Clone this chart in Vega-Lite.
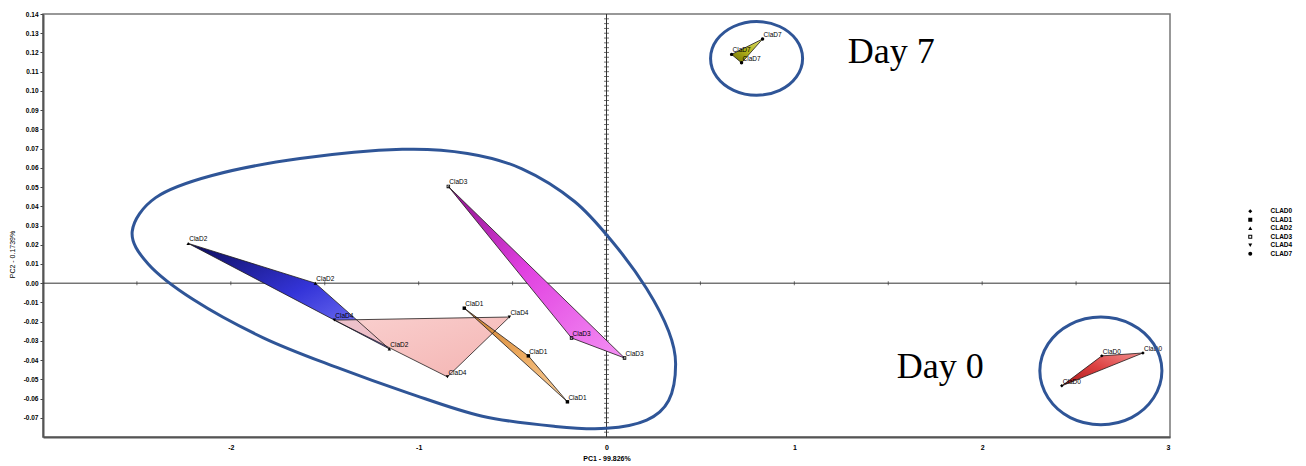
{
  "$schema": "https://vega.github.io/schema/vega-lite/v6.json",
  "width": 1127,
  "height": 423,
  "autosize": {"type": "none"},
  "padding": {"left": 43, "top": 14, "right": 136, "bottom": 29},
  "background": "#ffffff",
  "config": {"view": {"stroke": "#777777", "strokeWidth": 1.5}},
  "resolve": {"axis": {"x": "independent", "y": "independent"}},
  "datasets": {
    "pts": [
      {"group": "CLAD0", "label": "ClaD0", "v": 1, "x": 2.637, "y": -0.0378},
      {"group": "CLAD0", "label": "ClaD0", "v": 2, "x": 2.856, "y": -0.0363},
      {"group": "CLAD0", "label": "ClaD0", "v": 3, "x": 2.424, "y": -0.0534},
      {"group": "CLAD1", "label": "ClaD1", "v": 1, "x": -0.757, "y": -0.0130},
      {"group": "CLAD1", "label": "ClaD1", "v": 2, "x": -0.416, "y": -0.0378},
      {"group": "CLAD1", "label": "ClaD1", "v": 3, "x": -0.208, "y": -0.0617},
      {"group": "CLAD2", "label": "ClaD2", "v": 1, "x": -2.227, "y": 0.0207},
      {"group": "CLAD2", "label": "ClaD2", "v": 2, "x": -1.550, "y": 0.0000},
      {"group": "CLAD2", "label": "ClaD2", "v": 3, "x": -1.156, "y": -0.0342},
      {"group": "CLAD3", "label": "ClaD3", "v": 1, "x": -0.842, "y": 0.0503},
      {"group": "CLAD3", "label": "ClaD3", "v": 2, "x": -0.186, "y": -0.0285},
      {"group": "CLAD3", "label": "ClaD3", "v": 3, "x": 0.096, "y": -0.0389},
      {"group": "CLAD4", "label": "ClaD4", "v": 1, "x": -1.449, "y": -0.0192},
      {"group": "CLAD4", "label": "ClaD4", "v": 2, "x": -0.517, "y": -0.0176},
      {"group": "CLAD4", "label": "ClaD4", "v": 3, "x": -0.847, "y": -0.0487},
      {"group": "CLAD7", "label": "ClaD7", "v": 1, "x": 0.831, "y": 0.1270},
      {"group": "CLAD7", "label": "ClaD7", "v": 2, "x": 0.666, "y": 0.1190},
      {"group": "CLAD7", "label": "ClaD7", "v": 3, "x": 0.719, "y": 0.1146}
    ],
    "ell": [
      {"id": "big", "i": 1, "x": -2.525, "y": 0.0270},
      {"id": "big", "i": 2, "x": -2.40, "y": 0.0445},
      {"id": "big", "i": 3, "x": -2.10, "y": 0.0560},
      {"id": "big", "i": 4, "x": -1.632, "y": 0.0648},
      {"id": "big", "i": 5, "x": -1.088, "y": 0.0696},
      {"id": "big", "i": 6, "x": -0.740, "y": 0.0675},
      {"id": "big", "i": 7, "x": -0.450, "y": 0.0595},
      {"id": "big", "i": 8, "x": -0.170, "y": 0.0425},
      {"id": "big", "i": 9, "x": 0.040, "y": 0.0205},
      {"id": "big", "i": 10, "x": 0.214, "y": -0.0029},
      {"id": "big", "i": 11, "x": 0.331, "y": -0.0250},
      {"id": "big", "i": 12, "x": 0.368, "y": -0.0420},
      {"id": "big", "i": 13, "x": 0.331, "y": -0.0610},
      {"id": "big", "i": 14, "x": 0.214, "y": -0.0712},
      {"id": "big", "i": 15, "x": 0.000, "y": -0.0755},
      {"id": "big", "i": 16, "x": -0.272, "y": -0.0745},
      {"id": "big", "i": 17, "x": -0.661, "y": -0.0692},
      {"id": "big", "i": 18, "x": -1.050, "y": -0.0573},
      {"id": "big", "i": 19, "x": -1.439, "y": -0.0437},
      {"id": "big", "i": 20, "x": -1.827, "y": -0.0284},
      {"id": "big", "i": 21, "x": -2.200, "y": -0.0085},
      {"id": "big", "i": 22, "x": -2.440, "y": 0.0100},
      {"id": "d7", "i": 1, "x": 1.044, "y": 0.1169},
      {"id": "d7", "i": 2, "x": 1.011, "y": 0.1265},
      {"id": "d7", "i": 3, "x": 0.922, "y": 0.1335},
      {"id": "d7", "i": 4, "x": 0.799, "y": 0.1361},
      {"id": "d7", "i": 5, "x": 0.677, "y": 0.1335},
      {"id": "d7", "i": 6, "x": 0.587, "y": 0.1265},
      {"id": "d7", "i": 7, "x": 0.554, "y": 0.1169},
      {"id": "d7", "i": 8, "x": 0.587, "y": 0.1073},
      {"id": "d7", "i": 9, "x": 0.677, "y": 0.1003},
      {"id": "d7", "i": 10, "x": 0.799, "y": 0.0977},
      {"id": "d7", "i": 11, "x": 0.922, "y": 0.1003},
      {"id": "d7", "i": 12, "x": 1.011, "y": 0.1073},
      {"id": "d0", "i": 1, "x": 2.957, "y": -0.0456},
      {"id": "d0", "i": 2, "x": 2.913, "y": -0.0316},
      {"id": "d0", "i": 3, "x": 2.795, "y": -0.0214},
      {"id": "d0", "i": 4, "x": 2.632, "y": -0.0176},
      {"id": "d0", "i": 5, "x": 2.469, "y": -0.0214},
      {"id": "d0", "i": 6, "x": 2.351, "y": -0.0316},
      {"id": "d0", "i": 7, "x": 2.307, "y": -0.0456},
      {"id": "d0", "i": 8, "x": 2.351, "y": -0.0596},
      {"id": "d0", "i": 9, "x": 2.469, "y": -0.0699},
      {"id": "d0", "i": 10, "x": 2.632, "y": -0.0736},
      {"id": "d0", "i": 11, "x": 2.795, "y": -0.0699},
      {"id": "d0", "i": 12, "x": 2.913, "y": -0.0596}
    ],
    "days": [
      {"x": 1.284, "y": 0.1203, "text": "Day 7"},
      {"x": 1.545, "y": -0.0435, "text": "Day 0"}
    ],
    "hticks": [
      {"x": -2.5}, {"x": -2}, {"x": -1.5}, {"x": -1}, {"x": -0.5},
      {"x": 0.5}, {"x": 1}, {"x": 1.5}, {"x": 2}, {"x": 2.5}
    ],
    "vticks": [
      {"y": -0.0775}, {"y": -0.075}, {"y": -0.0725}, {"y": -0.07}, {"y": -0.0675}, {"y": -0.065}, {"y": -0.0625}, {"y": -0.06},
      {"y": -0.0575}, {"y": -0.055}, {"y": -0.0525}, {"y": -0.05}, {"y": -0.0475}, {"y": -0.045}, {"y": -0.0425}, {"y": -0.04},
      {"y": -0.0375}, {"y": -0.035}, {"y": -0.0325}, {"y": -0.03}, {"y": -0.0275}, {"y": -0.025}, {"y": -0.0225}, {"y": -0.02},
      {"y": -0.0175}, {"y": -0.015}, {"y": -0.0125}, {"y": -0.01}, {"y": -0.0075}, {"y": -0.005}, {"y": -0.0025},
      {"y": 0.0025}, {"y": 0.005}, {"y": 0.0075}, {"y": 0.01}, {"y": 0.0125}, {"y": 0.015}, {"y": 0.0175}, {"y": 0.02},
      {"y": 0.0225}, {"y": 0.025}, {"y": 0.0275}, {"y": 0.03}, {"y": 0.0325}, {"y": 0.035}, {"y": 0.0375}, {"y": 0.04},
      {"y": 0.0425}, {"y": 0.045}, {"y": 0.0475}, {"y": 0.05}, {"y": 0.0525}, {"y": 0.055}, {"y": 0.0575}, {"y": 0.06},
      {"y": 0.0625}, {"y": 0.065}, {"y": 0.0675}, {"y": 0.07}, {"y": 0.0725}, {"y": 0.075}, {"y": 0.0775}, {"y": 0.08},
      {"y": 0.0825}, {"y": 0.085}, {"y": 0.0875}, {"y": 0.09}, {"y": 0.0925}, {"y": 0.095}, {"y": 0.0975}, {"y": 0.1},
      {"y": 0.1025}, {"y": 0.105}, {"y": 0.1075}, {"y": 0.11}, {"y": 0.1125}, {"y": 0.115}, {"y": 0.1175}, {"y": 0.12},
      {"y": 0.1225}, {"y": 0.125}, {"y": 0.1275}, {"y": 0.13}, {"y": 0.1325}, {"y": 0.135}, {"y": 0.1375}
    ]
  },
  "layer": [
    {
      "data": {"name": "pts"},
      "mark": {"type": "point", "opacity": 0, "size": 1},
      "encoding": {
        "x": {"field": "x", "type": "quantitative", "scale": {"domain": [-3, 3], "nice": false, "zero": false},
          "axis": {"title": "PC1 - 99.826%", "values": [-2, -1, 0, 1, 2, 3], "labelExpr": "'' + datum.value", "grid": false, "ticks": false,
            "labelOverlap": false, "domainColor": "#555555", "domainWidth": 2, "labelFont": "Liberation Sans", "labelFontSize": 7, "labelFontWeight": "bold",
            "labelColor": "#000000", "labelPadding": 6, "titleFont": "Liberation Sans", "titleFontSize": 7, "titleFontWeight": "bold",
            "titleColor": "#000000", "titlePadding": 4}},
        "y": {"field": "y", "type": "quantitative", "scale": {"domain": [-0.08, 0.14], "nice": false, "zero": false},
          "axis": {"title": "PC2 - 0.1739%", "values": [-0.07, -0.06, -0.05, -0.04, -0.03, -0.02, -0.01, 0, 0.01, 0.02, 0.03, 0.04, 0.05, 0.06, 0.07, 0.08, 0.09, 0.1, 0.11, 0.12, 0.13, 0.14],
            "labelExpr": "replace(format(datum.value, '.2f'), '\u2212', '-')", "labelOverlap": false, "labelBound": false, "labelFlush": false,
            "grid": false, "ticks": true, "tickSize": 3, "tickColor": "#444444",
            "domainColor": "#555555", "domainWidth": 2, "labelFont": "Liberation Sans", "labelFontSize": 6.5, "labelFontWeight": "bold",
            "labelColor": "#000000", "labelPadding": 2, "titleFont": "Liberation Sans", "titleFontSize": 7, "titleFontWeight": "normal",
            "titleColor": "#000000", "titleX": -31, "titleY": 240, "titleAlign": "center", "titleBaseline": "middle"}}
      }
    },
    {
      "data": {"values": [{"y": 0}]},
      "mark": {"type": "rule", "color": "#333333", "strokeWidth": 1},
      "encoding": {
        "y": {"field": "y", "type": "quantitative", "scale": {"domain": [-0.08, 0.14], "nice": false, "zero": false}, "axis": null}
      }
    },
    {
      "data": {"values": [{"x": 0}]},
      "mark": {"type": "rule", "color": "#333333", "strokeWidth": 1},
      "encoding": {
        "x": {"field": "x", "type": "quantitative", "scale": {"domain": [-3, 3], "nice": false, "zero": false}, "axis": null}
      }
    },
    {
      "data": {"name": "hticks"},
      "mark": {"type": "tick", "orient": "vertical", "color": "#333333", "size": 4, "thickness": 1},
      "encoding": {
        "x": {"field": "x", "type": "quantitative", "scale": {"domain": [-3, 3], "nice": false, "zero": false}, "axis": null},
        "y": {"datum": 0, "type": "quantitative", "scale": {"domain": [-0.08, 0.14], "nice": false, "zero": false}, "axis": null}
      }
    },
    {
      "data": {"name": "vticks"},
      "mark": {"type": "tick", "orient": "horizontal", "color": "#333333", "size": 5, "thickness": 1},
      "encoding": {
        "x": {"datum": 0, "type": "quantitative", "scale": {"domain": [-3, 3], "nice": false, "zero": false}, "axis": null},
        "y": {"field": "y", "type": "quantitative", "scale": {"domain": [-0.08, 0.14], "nice": false, "zero": false}, "axis": null}
      }
    },
    {
      "data": {"name": "pts"},
      "transform": [{"filter": "datum.group === 'CLAD2'"}],
      "mark": {"type": "line", "interpolate": "linear-closed", "stroke": "transparent", "strokeWidth": 0,
        "fill": {"gradient": "linear", "x1": 0, "y1": 0, "x2": 1, "y2": 1, "stops": [{"offset": 0, "color": "#0c0c5a"}, {"offset": 0.5, "color": "#3434d8"}, {"offset": 1, "color": "#8c8cff"}]}},
      "encoding": {
        "x": {"field": "x", "type": "quantitative", "scale": {"domain": [-3, 3], "nice": false, "zero": false}, "axis": null},
        "y": {"field": "y", "type": "quantitative", "scale": {"domain": [-0.08, 0.14], "nice": false, "zero": false}, "axis": null},
        "order": {"field": "v", "type": "quantitative"}
      }
    },
    {
      "data": {"name": "pts"},
      "transform": [{"filter": "datum.group === 'CLAD4'"}],
      "mark": {"type": "line", "interpolate": "linear-closed", "stroke": "transparent", "strokeWidth": 0, "fillOpacity": 0.92,
        "fill": {"gradient": "linear", "x1": 0, "y1": 0, "x2": 1, "y2": 1, "stops": [{"offset": 0, "color": "#f9cccb"}, {"offset": 1, "color": "#f3aeac"}]}},
      "encoding": {
        "x": {"field": "x", "type": "quantitative", "scale": {"domain": [-3, 3], "nice": false, "zero": false}, "axis": null},
        "y": {"field": "y", "type": "quantitative", "scale": {"domain": [-0.08, 0.14], "nice": false, "zero": false}, "axis": null},
        "order": {"field": "v", "type": "quantitative"}
      }
    },
    {
      "data": {"name": "pts"},
      "transform": [{"filter": "datum.group === 'CLAD1'"}],
      "mark": {"type": "line", "interpolate": "linear-closed", "stroke": "transparent", "strokeWidth": 0,
        "fill": {"gradient": "linear", "x1": 0, "y1": 0, "x2": 1, "y2": 1, "stops": [{"offset": 0, "color": "#c47a2c"}, {"offset": 0.5, "color": "#eca85c"}, {"offset": 1, "color": "#f6d0a0"}]}},
      "encoding": {
        "x": {"field": "x", "type": "quantitative", "scale": {"domain": [-3, 3], "nice": false, "zero": false}, "axis": null},
        "y": {"field": "y", "type": "quantitative", "scale": {"domain": [-0.08, 0.14], "nice": false, "zero": false}, "axis": null},
        "order": {"field": "v", "type": "quantitative"}
      }
    },
    {
      "data": {"name": "pts"},
      "transform": [{"filter": "datum.group === 'CLAD3'"}],
      "mark": {"type": "line", "interpolate": "linear-closed", "stroke": "transparent", "strokeWidth": 0,
        "fill": {"gradient": "linear", "x1": 0, "y1": 0, "x2": 1, "y2": 1, "stops": [{"offset": 0, "color": "#8a108a"}, {"offset": 0.45, "color": "#e040e0"}, {"offset": 1, "color": "#f490f4"}]}},
      "encoding": {
        "x": {"field": "x", "type": "quantitative", "scale": {"domain": [-3, 3], "nice": false, "zero": false}, "axis": null},
        "y": {"field": "y", "type": "quantitative", "scale": {"domain": [-0.08, 0.14], "nice": false, "zero": false}, "axis": null},
        "order": {"field": "v", "type": "quantitative"}
      }
    },
    {
      "data": {"name": "pts"},
      "transform": [{"filter": "datum.group === 'CLAD0'"}],
      "mark": {"type": "line", "interpolate": "linear-closed", "stroke": "transparent", "strokeWidth": 0,
        "fill": {"gradient": "linear", "x1": 0, "y1": 1, "x2": 1, "y2": 0, "stops": [{"offset": 0, "color": "#a81818"}, {"offset": 0.5, "color": "#dc4040"}, {"offset": 1, "color": "#f29090"}]}},
      "encoding": {
        "x": {"field": "x", "type": "quantitative", "scale": {"domain": [-3, 3], "nice": false, "zero": false}, "axis": null},
        "y": {"field": "y", "type": "quantitative", "scale": {"domain": [-0.08, 0.14], "nice": false, "zero": false}, "axis": null},
        "order": {"field": "v", "type": "quantitative"}
      }
    },
    {
      "data": {"name": "pts"},
      "transform": [{"filter": "datum.group === 'CLAD7'"}],
      "mark": {"type": "line", "interpolate": "linear-closed", "stroke": "transparent", "strokeWidth": 0,
        "fill": {"gradient": "linear", "x1": 0, "y1": 1, "x2": 1, "y2": 0, "stops": [{"offset": 0, "color": "#6a6a00"}, {"offset": 0.5, "color": "#b4b41c"}, {"offset": 1, "color": "#dede70"}]}},
      "encoding": {
        "x": {"field": "x", "type": "quantitative", "scale": {"domain": [-3, 3], "nice": false, "zero": false}, "axis": null},
        "y": {"field": "y", "type": "quantitative", "scale": {"domain": [-0.08, 0.14], "nice": false, "zero": false}, "axis": null},
        "order": {"field": "v", "type": "quantitative"}
      }
    },
    {
      "data": {"name": "pts"},
      "mark": {"type": "line", "interpolate": "linear-closed", "stroke": "#1e1a1a", "strokeWidth": 0.8},
      "encoding": {
        "x": {"field": "x", "type": "quantitative", "scale": {"domain": [-3, 3], "nice": false, "zero": false}, "axis": null},
        "y": {"field": "y", "type": "quantitative", "scale": {"domain": [-0.08, 0.14], "nice": false, "zero": false}, "axis": null},
        "detail": {"field": "group", "type": "nominal"},
        "order": {"field": "v", "type": "quantitative"}
      }
    },
    {
      "data": {"name": "pts"},
      "mark": {"type": "point", "filled": true, "color": "#000000", "size": 12, "opacity": 1},
      "encoding": {
        "x": {"field": "x", "type": "quantitative", "scale": {"domain": [-3, 3], "nice": false, "zero": false}, "axis": null},
        "y": {"field": "y", "type": "quantitative", "scale": {"domain": [-0.08, 0.14], "nice": false, "zero": false}, "axis": null},
        "shape": {"field": "group", "type": "nominal",
          "scale": {"domain": ["CLAD0", "CLAD1", "CLAD2", "CLAD3", "CLAD4", "CLAD7"],
            "range": ["diamond", "square", "triangle-up", "M-1,-1L1,-1L1,1L-1,1Z M-0.5,-0.5L-0.5,0.5L0.5,0.5L0.5,-0.5Z", "triangle-down", "circle"]},
          "legend": {"title": null, "orient": "none", "legendX": 1204, "legendY": 194, "padding": 0,
            "labelFont": "Liberation Sans", "labelFontSize": 6.5, "labelFontWeight": "bold", "labelColor": "#000000",
            "symbolSize": 16, "symbolFillColor": "#000000", "symbolStrokeColor": "#000000", "symbolStrokeWidth": 0,
            "rowPadding": 1.5, "labelOffset": 17}}
      }
    },
    {
      "data": {"name": "pts"},
      "mark": {"type": "text", "font": "Liberation Sans", "fontSize": 6.5, "align": "left", "baseline": "middle", "dx": 1, "dy": -4, "color": "#000000"},
      "encoding": {
        "x": {"field": "x", "type": "quantitative", "scale": {"domain": [-3, 3], "nice": false, "zero": false}, "axis": null},
        "y": {"field": "y", "type": "quantitative", "scale": {"domain": [-0.08, 0.14], "nice": false, "zero": false}, "axis": null},
        "text": {"field": "label"}
      }
    },
    {
      "data": {"name": "ell"},
      "mark": {"type": "line", "interpolate": "cardinal-closed", "stroke": "#2f5597", "strokeWidth": 3},
      "encoding": {
        "x": {"field": "x", "type": "quantitative", "scale": {"domain": [-3, 3], "nice": false, "zero": false}, "axis": null},
        "y": {"field": "y", "type": "quantitative", "scale": {"domain": [-0.08, 0.14], "nice": false, "zero": false}, "axis": null},
        "detail": {"field": "id", "type": "nominal"},
        "order": {"field": "i", "type": "quantitative"}
      }
    },
    {
      "data": {"name": "days"},
      "mark": {"type": "text", "font": "Liberation Serif", "fontSize": 36, "align": "left", "baseline": "middle", "color": "#000000"},
      "encoding": {
        "x": {"field": "x", "type": "quantitative", "scale": {"domain": [-3, 3], "nice": false, "zero": false}, "axis": null},
        "y": {"field": "y", "type": "quantitative", "scale": {"domain": [-0.08, 0.14], "nice": false, "zero": false}, "axis": null},
        "text": {"field": "text"}
      }
    }
  ]
}
